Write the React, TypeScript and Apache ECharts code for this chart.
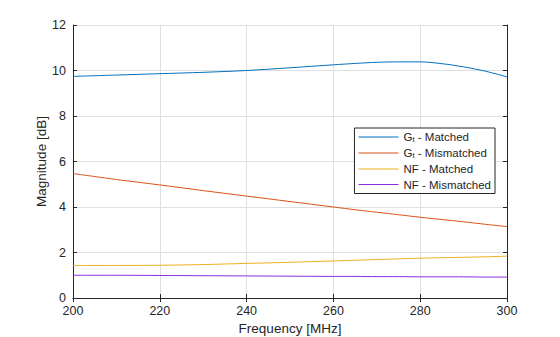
import React, { useEffect, useRef } from "react";
import * as echarts from "echarts";

const freq = [200, 210, 220, 230, 240, 250, 260, 265, 270, 275, 280, 285, 290, 295, 300];
const gtMatched = [9.74, 9.80, 9.86, 9.92, 10.0, 10.12, 10.25, 10.31, 10.36, 10.38, 10.38, 10.3, 10.16, 9.97, 9.72];
const gtMismatched = [5.47, 5.21, 4.97, 4.72, 4.48, 4.24, 4.0, 3.88, 3.77, 3.66, 3.55, 3.45, 3.35, 3.24, 3.14];
const nfMatched = [1.43, 1.43, 1.44, 1.47, 1.52, 1.57, 1.63, 1.66, 1.69, 1.72, 1.75, 1.77, 1.79, 1.81, 1.84];
const nfMismatched = [1.0, 1.0, 0.99, 0.98, 0.97, 0.96, 0.95, 0.95, 0.94, 0.94, 0.93, 0.93, 0.93, 0.92, 0.92];
const xTicks = { min: 200, max: 300, interval: 20 };
const yTicks = { min: 0, max: 12, interval: 2 };

const names = ["Gt - Matched", "Gt - Mismatched", "NF - Matched", "NF - Mismatched"];
const colors = ["#0072BD", "#D95319", "#EDB120", "#8b2be2"];

export default function App() {
  const ref = useRef<HTMLDivElement>(null);
  useEffect(() => {
    if (!ref.current) return;
    const chart = echarts.init(ref.current, null, { renderer: "svg" });
    const font = "Liberation Sans, Arial, sans-serif";
    const mk = (ys: number[]) => freq.map((f, i) => [f, ys[i]]);
    const all = [gtMatched, gtMismatched, nfMatched, nfMismatched];
    const axisLine = { show: true, lineStyle: { color: "#262626", width: 1 } };
    chart.setOption({
      animation: false,
      textStyle: { fontFamily: font },
      grid: { left: 73, right: 53, top: 25, bottom: 39, show: false, containLabel: false, outerBoundsMode: "none" },
      legend: {
        orient: "vertical",
        right: 65,
        top: 128,
        backgroundColor: "#fff",
        borderColor: "#262626",
        borderWidth: 1,
        borderRadius: 0,
        padding: [3, 4, 3, 4],
        itemGap: 3.5,
        itemWidth: 40,
        itemHeight: 12,
        icon: "path://M0,0 L40,0 L40,1 L0,1 Z",
        data: names.map((n, i) => ({ name: n, itemStyle: { color: colors[i] } })),
        formatter: (n: string) =>
          n.startsWith("Gt") ? "{b|G}{s|t}{b|" + n.slice(2) + "}" : "{b|" + n + "}",
        textStyle: {
          fontFamily: font,
          fontSize: 11.5,
          color: "#262626",
          rich: {
            b: { fontSize: 11.5, color: "#262626", fontFamily: font },
            s: { fontSize: 8, color: "#262626", fontFamily: font, verticalAlign: "bottom", padding: [5, 0, 0, 0] },
          },
        },
      },
      xAxis: [
        {
          type: "value",
          ...xTicks,
          name: "Frequency [MHz]",
          nameLocation: "middle",
          nameGap: 23,
          nameTextStyle: { fontSize: 13.5, color: "#262626", fontFamily: font },
          axisLine,
          axisTick: { inside: true, length: 4, lineStyle: { color: "#262626" } },
          axisLabel: { fontSize: 12.5, color: "#262626", margin: 6, fontFamily: font },
          splitLine: { show: true, lineStyle: { color: "#dfdfdf", width: 1 } },
        },
        {
          type: "value",
          position: "top",
          ...xTicks,
          axisLine,
          axisTick: { inside: true, length: 4, lineStyle: { color: "#262626" } },
          axisLabel: { show: false },
          splitLine: { show: false },
        },
      ],
      yAxis: [
        {
          type: "value",
          ...yTicks,
          name: "Magnitude [dB]",
          nameLocation: "middle",
          nameGap: 25,
          nameMoveOverlap: false,
          nameTextStyle: { fontSize: 13.5, color: "#262626", fontFamily: font },
          axisLine,
          axisTick: { inside: true, length: 4, lineStyle: { color: "#262626" } },
          axisLabel: { fontSize: 12.5, color: "#262626", margin: 7, fontFamily: font },
          splitLine: { show: true, lineStyle: { color: "#dfdfdf", width: 1 } },
        },
        {
          type: "value",
          position: "right",
          ...yTicks,
          axisLine,
          axisTick: { inside: true, length: 4, lineStyle: { color: "#262626" } },
          axisLabel: { show: false },
          splitLine: { show: false },
        },
      ],
      series: all.map((ys, i) => ({
        name: names[i],
        type: "line",
        data: mk(ys),
        smooth: 0.3,
        showSymbol: false,
        symbol: "none",
        lineStyle: { color: colors[i], width: 1 },
        itemStyle: { color: colors[i] },
      })),
    });
    return () => chart.dispose();
  }, []);
  return <div ref={ref} style={{ width: 560, height: 337, position: "absolute", left: 0, top: 0 }} />;
}
